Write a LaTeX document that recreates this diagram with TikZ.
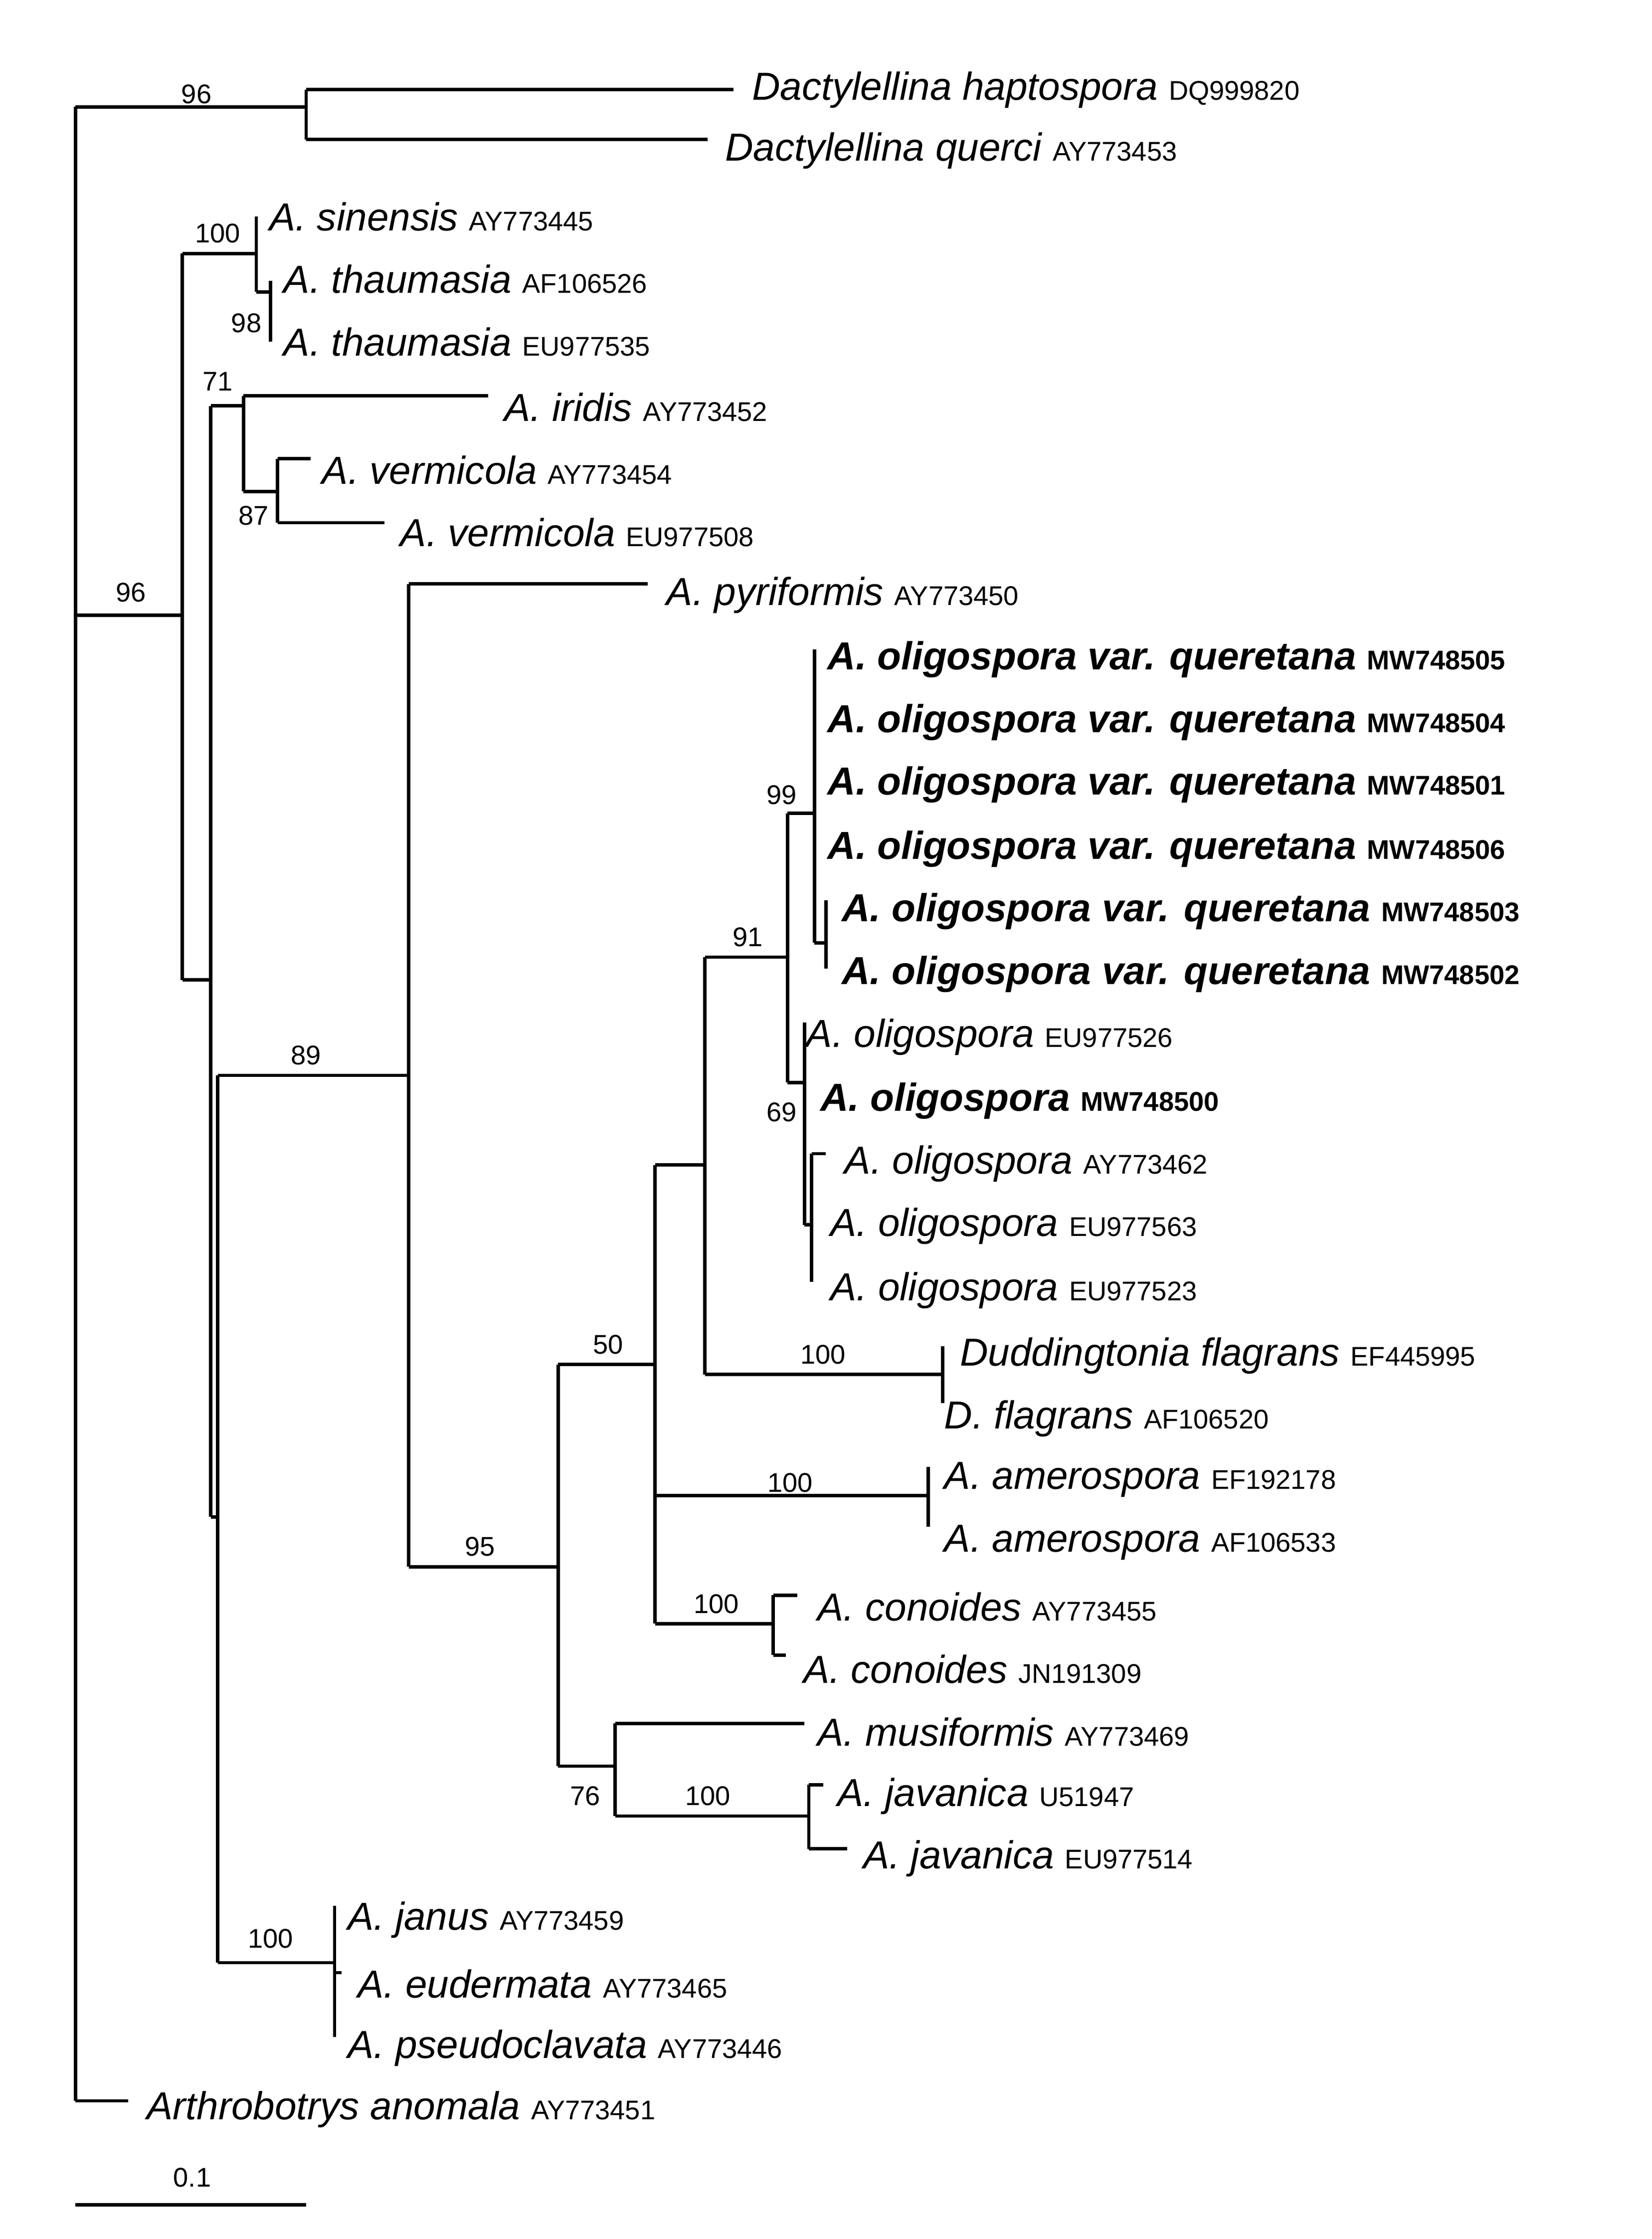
\documentclass[tikz,border=0pt]{standalone}
\usepackage{fontspec}
\setmainfont{Liberation Sans}
\begin{document}
\begin{tikzpicture}[x=0.025cm,y=-0.025cm,line width=1.7pt,
  leaf/.style={anchor=west,inner sep=0pt,font=\fontsize{19.5}{22}\selectfont\itshape},
  bs/.style={font=\fontsize{13.5}{15}\selectfont,inner sep=0pt}]
\newcommand{\acc}[1]{{\upshape\fontsize{13.5}{15}\selectfont #1}}
\newcommand{\bacc}[1]{{\upshape\bfseries\fontsize{13.5}{15}\selectfont #1}}
\useasboundingbox[fill=white] (0,0) rectangle (1160,1572);
% root
\draw (53,75) -- (53,1475);
\draw (53,75) -- (215,75); \node[bs] at (138,66) {96};
\draw (215,63) -- (215,98);
\draw (215,63) -- (515,63); \node[leaf] (dh) at (527,63) {Dactylellina haptospora \acc{DQ999820}};
\draw (215,98) -- (497,98); \node[leaf] (dq) at (508,106) {Dactylellina querci \acc{AY773453}};
% main
\draw (53,432) -- (128,432); \node[bs] at (92,416) {96};
\draw (128,178) -- (128,688);
\draw (128,178) -- (180,178); \node[bs] at (153,164) {100};
\draw (180,152) -- (180,205);
\node[leaf] at (188,152) {A. sinensis \acc{AY773445}};
\draw (180,205) -- (190,205); \draw (190,197) -- (190,240);
\node[bs] at (173,227) {98};
\node[leaf] at (198,196) {A. thaumasia \acc{AF106526}};
\node[leaf] at (198,240) {A. thaumasia \acc{EU977535}};
\draw (128,688) -- (148,688);
\draw (148,285) -- (148,1065);
\draw (148,285) -- (171,285); \node[bs] at (153,268) {71};
\draw (171,278) -- (171,345);
\draw (171,278) -- (343,278); \node[leaf] at (353,286) {A. iridis \acc{AY773452}};
\draw (171,345) -- (195,345); \node[bs] at (178,362) {87};
\draw (195,322) -- (195,367);
\draw (195,322) -- (218,322); \node[leaf] at (225,330) {A. vermicola \acc{AY773454}};
\draw (195,367) -- (270,367); \node[leaf] at (280,374) {A. vermicola \acc{EU977508}};
\draw (148,1065) -- (153,1065);
\draw (153,755) -- (153,1378);
\draw (153,755) -- (287,755); \node[bs] at (215,741) {89};
\draw (287,410) -- (287,1100);
\draw (287,410) -- (455,410); \node[leaf] at (467,418) {A. pyriformis \acc{AY773450}};
\draw (287,1100) -- (392,1100); \node[bs] at (337,1086) {95};
\draw (392,958) -- (392,1240);
\draw (392,958) -- (460,958); \node[bs] at (427,944) {50};
\draw (460,818) -- (460,1140);
\draw (460,818) -- (495,818);
\draw (495,672) -- (495,965);
\draw (495,672) -- (553,672); \node[bs] at (525,658) {91};
\draw (553,571) -- (553,760);
\draw (553,571) -- (572,571); \node[bs] at (549,558) {99};
\draw (572,456) -- (572,662);
\draw (572,662) -- (580,662); \draw (580,632) -- (580,680);
\foreach \y/\a in {463/MW748505,507/MW748504,551/MW748501,596/MW748506}
  \node[leaf,font=\fontsize{19.5}{22}\selectfont\bfseries\itshape] at (580,\y) {A. oligospora var. queretana \bacc{\a}};
\foreach \y/\a in {640/MW748503,684/MW748502}
  \node[leaf,font=\fontsize{19.5}{22}\selectfont\bfseries\itshape] at (590,\y) {A. oligospora var. queretana \bacc{\a}};
\draw (553,760) -- (565,760); \node[bs] at (549,781) {69};
\draw (565,718) -- (565,860);
\node[leaf] at (565,728) {A. oligospora \acc{EU977526}};
\node[leaf,font=\fontsize{19.5}{22}\selectfont\bfseries\itshape] at (575,773) {A. oligospora \bacc{MW748500}};
\draw (565,860) -- (570,860); \draw (570,810) -- (570,900);
\draw (570,810) -- (580,810);
\node[leaf] at (592,817) {A. oligospora \acc{AY773462}};
\node[leaf] at (582,861) {A. oligospora \acc{EU977563}};
\node[leaf] at (582,906) {A. oligospora \acc{EU977523}};
\draw (495,965) -- (662,965); \node[bs] at (578,951) {100};
\draw (662,945) -- (662,985);
\node[leaf] at (673,952) {Duddingtonia flagrans \acc{EF445995}};
\node[leaf] at (662,996) {D. flagrans \acc{AF106520}};
\draw (460,1050) -- (652,1050); \node[bs] at (555,1041) {100};
\draw (652,1030) -- (652,1072);
\node[leaf] at (662,1039) {A. amerospora \acc{EF192178}};
\node[leaf] at (662,1083) {A. amerospora \acc{AF106533}};
\draw (460,1140) -- (543,1140); \node[bs] at (503,1126) {100};
\draw (543,1120) -- (543,1162);
\draw (543,1120) -- (560,1120); \node[leaf] at (573,1128) {A. conoides \acc{AY773455}};
\draw (543,1162) -- (552,1162); \node[leaf] at (563,1172) {A. conoides \acc{JN191309}};
\draw (392,1240) -- (432,1240); \node[bs] at (411,1261) {76};
\draw (432,1210) -- (432,1275);
\draw (432,1210) -- (565,1210); \node[leaf] at (573,1216) {A. musiformis \acc{AY773469}};
\draw (432,1275) -- (568,1275); \node[bs] at (497,1261) {100};
\draw (568,1253) -- (568,1298);
\draw (568,1253) -- (578,1253); \node[leaf] at (587,1261) {A. javanica \acc{U51947}};
\draw (568,1298) -- (595,1298); \node[leaf] at (605,1305) {A. javanica \acc{EU977514}};
\draw (153,1378) -- (235,1378); \node[bs] at (190,1361) {100};
\draw (235,1338) -- (235,1430);
\node[leaf] at (243,1348) {A. janus \acc{AY773459}};
\draw (235,1385) -- (240,1385); \node[leaf] at (250,1393) {A. eudermata \acc{AY773465}};
\node[leaf] at (243,1438) {A. pseudoclavata \acc{AY773446}};
\draw (53,1475) -- (90,1475); \node[leaf] at (102,1481) {Arthrobotrys anomala \acc{AY773451}};
% scale
\draw (53,1548) -- (215,1548); \node[bs] at (135,1529) {0.1};
\end{tikzpicture}
\end{document}
